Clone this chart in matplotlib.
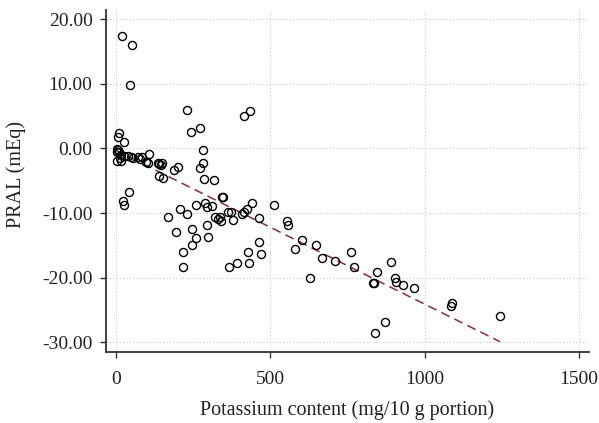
"""PRAL vs potassium content scatter with fitted regression line."""

import matplotlib
matplotlib.use("Agg")
import matplotlib.pyplot as plt
import numpy as np

# potassium content (mg / 10 g portion) and PRAL (mEq)
potassium = [
    5, 7, 9, 3, 2, 12, 16, 16, 25, 38, 50, 55, 70, 78, 86, 97, 103, 108,
    135, 140, 146, 148, 140, 151, 189, 200,
    10, 8, 27, 20, 51, 45, 43, 24, 27,
    231, 243, 272, 415, 436, 281, 281, 272, 286, 318,
    207, 229, 260, 288, 295, 312, 344, 348, 170, 321, 332, 337, 342,
    364, 372, 380, 407, 415, 424, 440, 464, 512,
    194, 248, 259, 294, 299, 248, 218, 218, 367, 391, 432, 429, 462, 470,
    555, 558, 602, 579, 649, 669, 710, 760, 770, 629, 834, 836, 847, 890,
    905, 906, 929, 966, 1088, 1085, 1244, 872, 840,
]
pral = [
    -0.1, -0.3, -0.5, -0.6, -1.9, -1.5, -1.0, -1.9, -1.2, -1.1, -1.3, -1.5,
    -1.4, -1.6, -1.3, -2.1, -2.2, -0.9,
    -2.3, -2.4, -2.6, -2.3, -4.2, -4.6, -3.3, -2.8,
    2.4, 1.8, 1.0, 17.4, 16.0, 9.8, -6.8, -8.1, -8.8,
    5.9, 2.6, 3.1, 5.0, 5.8, -0.3, -2.3, -3.1, -4.7, -4.9,
    -9.4, -10.1, -8.7, -8.4, -9.0, -8.9, -7.5, -7.5, -10.6, -10.6, -10.9,
    -10.6, -11.2,
    -9.9, -9.9, -11.1, -10.2, -9.8, -9.4, -8.4, -10.8, -8.8,
    -13.0, -12.4, -13.8, -11.9, -13.7, -14.9, -16.0, -18.3, -18.3, -17.7,
    -17.8, -16.0, -14.5, -16.3,
    -11.3, -11.8, -14.1, -15.5, -15.0, -17.0, -17.4, -16.0, -18.3, -20.0,
    -20.9, -20.9, -19.2, -17.6,
    -20.0, -20.6, -21.1, -21.6, -23.9, -24.4, -25.9, -26.8, -28.6,
]

# fitted line as drawn in the figure
fit_intercept = -0.3
fit_slope = -0.0238

x_ticks = [0, 500, 1000, 1500]
y_ticks = [20, 10, 0, -10, -20, -30]

plt.rcParams["font.family"] = ["Liberation Serif", "DejaVu Serif"]

fig = plt.figure(figsize=(5.99, 4.23), dpi=100)
ax = fig.add_axes([0.1765, 0.168, 0.807, 0.808])

ax.grid(True, color="#c8c8c8", linestyle=(0, (1, 2)), linewidth=0.8, zorder=0)

xs = np.array([min(potassium), max(potassium)])
ax.plot(xs, fit_intercept + fit_slope * xs, color="#8b2a3a",
        linestyle=(0, (6, 3.5)), linewidth=1.1, zorder=2)
ax.plot(potassium, pral, linestyle="none", marker="o", markersize=5.8,
        markerfacecolor="none", markeredgecolor="black", markeredgewidth=1.0,
        zorder=3)

ax.set_xlim(-33, 1533)
ax.set_ylim(-31.5, 21.4)
ax.set_xticks(x_ticks)
ax.set_yticks(y_ticks)
ax.set_yticklabels([f"{v:.2f}" for v in y_ticks])

for side in ("top", "right"):
    ax.spines[side].set_visible(False)
for side in ("left", "bottom"):
    ax.spines[side].set_color("#333333")
    ax.spines[side].set_linewidth(1.3)
ax.tick_params(direction="out", length=4.5, width=1.0, color="#333333",
               labelsize=14, labelcolor="#222222")
ax.tick_params(axis="x", pad=9)
ax.tick_params(axis="y", pad=5)

ax.set_xlabel("Potassium content (mg/10 g portion)", fontsize=14.5,
              color="#222222", labelpad=9)
ax.set_ylabel("PRAL (mEq)", fontsize=14.5, color="#222222")
ax.yaxis.set_label_coords(-0.165, 0.52)

fig.savefig("out.png", dpi=100)
plt.close(fig)
